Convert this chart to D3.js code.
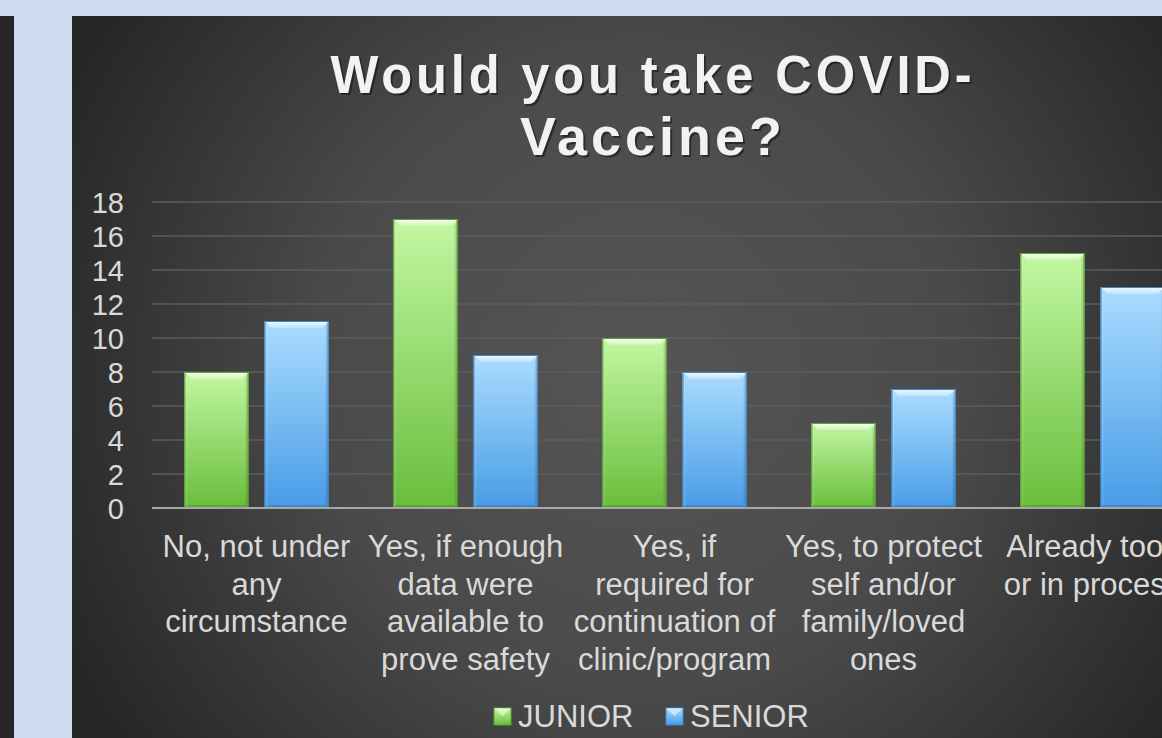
<!DOCTYPE html>
<html>
<head>
<meta charset="utf-8">
<script src="https://cdn.jsdelivr.net/npm/d3@7"></script>
<style>
  html, body { margin: 0; padding: 0; background: #cfdbf0; }
  svg { display: block; }
</style>
</head>
<body>
<svg id="chart" width="1162" height="738"></svg>
<script>
// Survey responses by class year
const categories = [
  ["No, not under", "any", "circumstance"],
  ["Yes, if enough", "data were", "available to", "prove safety"],
  ["Yes, if", "required for", "continuation of", "clinic/program"],
  ["Yes, to protect", "self and/or", "family/loved", "ones"],
  ["Already took", "or in process"]
];
const seriesNames = ["JUNIOR", "SENIOR"];
const junior = [8, 17, 10, 5, 15];
const senior = [11, 9, 8, 7, 13];
const yTicks = [0, 2, 4, 6, 8, 10, 12, 14, 16, 18];
const titleLines = ["Would you take COVID-", "Vaccine?"];

const svg = d3.select("#chart");
const W = 1162, H = 738;
const defs = svg.append("defs");

// slide backdrop: light band, dark sliver on the left, chart panel
svg.append("rect").attr("width", W).attr("height", H).attr("fill", "#cfdbf0");
svg.append("rect").attr("x", 0).attr("y", 16).attr("width", 14).attr("height", H - 16).attr("fill", "#272727");

const bg = defs.append("radialGradient").attr("id", "panelBg")
  .attr("gradientUnits", "userSpaceOnUse")
  .attr("cx", 640).attr("cy", 370).attr("r", 640);
bg.append("stop").attr("offset", 0).attr("stop-color", "#555555");
bg.append("stop").attr("offset", 0.5).attr("stop-color", "#4a4a4a");
bg.append("stop").attr("offset", 1).attr("stop-color", "#262626");
svg.append("rect").attr("x", 72).attr("y", 16).attr("width", W - 72).attr("height", H - 16).attr("fill", "url(#panelBg)");

// bar fills
const palette = {
  JUNIOR: { top: "#c2f7a2", bottom: "#69bd3c", edge: "#5aa532" },
  SENIOR: { top: "#abdcff", bottom: "#479ce6", edge: "#3b87cc" }
};
seriesNames.forEach(name => {
  const g = defs.append("linearGradient").attr("id", "fill-" + name)
    .attr("x1", 0).attr("y1", 0).attr("x2", 0).attr("y2", 1);
  g.append("stop").attr("offset", 0).attr("stop-color", palette[name].top);
  g.append("stop").attr("offset", 1).attr("stop-color", palette[name].bottom);
});
const bev = defs.append("linearGradient").attr("id", "bevelTop")
  .attr("x1", 0).attr("y1", 0).attr("x2", 0).attr("y2", 1);
bev.append("stop").attr("offset", 0).attr("stop-color", "#ffffff").attr("stop-opacity", 0.85);
bev.append("stop").attr("offset", 1).attr("stop-color", "#ffffff").attr("stop-opacity", 0.25);

// plot area
const plot = { left: 152, right: 1197, top: 202, bottom: 508 };
const x0 = d3.scaleBand().domain(d3.range(categories.length)).range([plot.left, plot.right]);
const bw = x0.bandwidth();
const x1 = d3.scaleBand().domain(seriesNames).range([bw * 0.155, bw * 0.845]).paddingInner(0.2);
const y = d3.scaleLinear().domain([0, 18]).range([plot.bottom, plot.top]);

// gridlines
svg.append("g").selectAll("line").data(yTicks.filter(t => t > 0)).join("line")
  .attr("x1", plot.left).attr("x2", W)
  .attr("y1", d => y(d)).attr("y2", d => y(d))
  .attr("stroke", "#5c5c5c").attr("stroke-width", 1.5);

// y axis labels
const yAxis = d3.axisLeft(y).tickValues(yTicks).tickSize(0).tickPadding(0);
const yg = svg.append("g").attr("transform", `translate(${124},0)`).call(yAxis);
yg.select(".domain").remove();
yg.selectAll("text")
  .attr("fill", "#d9d9d9")
  .style("font-family", "Liberation Sans, Arial, sans-serif")
  .style("font-size", "29px")
  .attr("dy", "0.35em");

// bars
const data = [];
categories.forEach((c, i) => {
  data.push({ i, s: "JUNIOR", v: junior[i] });
  data.push({ i, s: "SENIOR", v: senior[i] });
});

const bars = svg.append("g").selectAll("g").data(data).join("g");
bars.each(function (d) {
  const g = d3.select(this);
  const bx = x0(d.i) + x1(d.s);
  const w = x1.bandwidth();
  const top = y(d.v);
  const h = y(0) - top;
  const b = 7;
  g.append("rect").attr("x", bx).attr("y", top).attr("width", w).attr("height", h)
    .attr("fill", `url(#fill-${d.s})`);
  // bevel facets
  g.append("polygon")
    .attr("points", [[bx, top], [bx + w, top], [bx + w - b, top + b], [bx + b, top + b]].map(p => p.join(",")).join(" "))
    .attr("fill", "url(#bevelTop)");
  g.append("polygon")
    .attr("points", [[bx, top], [bx + 3, top + b], [bx + 3, top + h - 3], [bx, top + h]].map(p => p.join(",")).join(" "))
    .attr("fill", "#ffffff").attr("fill-opacity", 0.12);
  g.append("polygon")
    .attr("points", [[bx + w, top], [bx + w - 3, top + b], [bx + w - 3, top + h - 3], [bx + w, top + h]].map(p => p.join(",")).join(" "))
    .attr("fill", "#000000").attr("fill-opacity", 0.1);
  g.append("polygon")
    .attr("points", [[bx, top + h], [bx + 3, top + h - 3], [bx + w - 3, top + h - 3], [bx + w, top + h]].map(p => p.join(",")).join(" "))
    .attr("fill", "#000000").attr("fill-opacity", 0.12);
  g.append("rect").attr("x", bx + 0.5).attr("y", top + 0.5).attr("width", w - 1).attr("height", h - 1)
    .attr("fill", "none").attr("stroke", palette[d.s].edge).attr("stroke-width", 1);
});

// baseline
svg.append("line").attr("x1", plot.left).attr("x2", W)
  .attr("y1", y(0)).attr("y2", y(0))
  .attr("stroke", "#a8a8a8").attr("stroke-width", 2);

// category labels
const xl = svg.append("g")
  .style("font-family", "Liberation Sans, Arial, sans-serif")
  .style("font-size", "31px")
  .attr("fill", "#d9d9d9")
  .attr("text-anchor", "middle");
categories.forEach((lines, i) => {
  const t = xl.append("text").attr("x", x0(i) + bw / 2).attr("y", 557);
  lines.forEach((ln, k) => {
    t.append("tspan").attr("x", x0(i) + bw / 2).attr("dy", k === 0 ? 0 : 37.5).text(ln);
  });
});

// title: bold face, letter-spaced, squeezed horizontally to a condensed look
const tg = svg.append("g")
  .style("font-family", "Liberation Sans, Arial, sans-serif")
  .style("font-weight", "bold")
  .style("font-size", "53px")
  .style("letter-spacing", "4px")
  .attr("text-anchor", "middle");
const titleTargets = [645, 266];
titleLines.forEach((ln, k) => {
  const yy = 93 + k * 62;
  const row = tg.append("g");
  const sh = row.append("text").attr("x", 2).attr("y", 2).attr("fill", "#111").attr("fill-opacity", 0.55).text(ln);
  const t = row.append("text").attr("x", 0).attr("y", 0).attr("fill", "#f2f2f2").text(ln);
  const natural = t.node().getComputedTextLength();
  const sx = titleTargets[k] / natural;
  row.attr("transform", `translate(653,${yy}) scale(${sx},1)`);
});

// legend
const lg = svg.append("g")
  .style("font-family", "Liberation Sans, Arial, sans-serif")
  .style("font-size", "31px")
  .attr("fill", "#d9d9d9");
const legendX = [494, 666];
seriesNames.forEach((name, k) => {
  const lx = legendX[k];
  lg.append("rect").attr("x", lx).attr("y", 708).attr("width", 17).attr("height", 17)
    .attr("fill", `url(#fill-${name})`).attr("stroke", palette[name].edge);
  lg.append("polygon")
    .attr("points", [[lx, 708], [lx + 17, 708], [lx + 8.5, 716]].map(p => p.join(",")).join(" "))
    .attr("fill", "#ffffff").attr("fill-opacity", 0.5);
  lg.append("text").attr("x", lx + 24).attr("y", 727).text(name);
});
</script>
</body>
</html>
